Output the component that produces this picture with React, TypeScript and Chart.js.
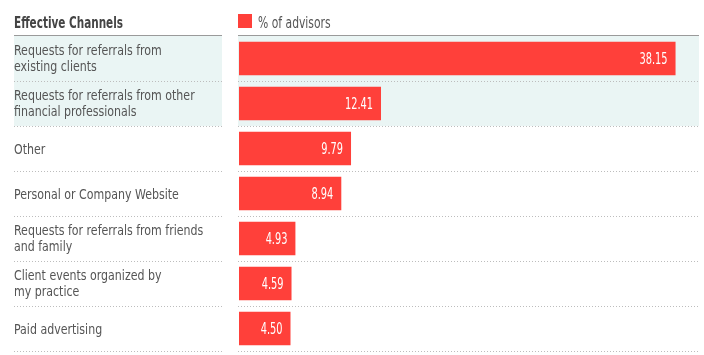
import React, { useEffect, useRef } from "react";
import { Chart, registerables } from "chart.js";

Chart.register(...registerables);

const categories: string[][] = [
  ["Requests for referrals from", "existing clients"],
  ["Requests for referrals from other", "financial professionals"],
  ["Other"],
  ["Personal or Company Website"],
  ["Requests for referrals from friends", "and family"],
  ["Client events organized by", "my practice"],
  ["Paid advertising"],
];
const advisorsPct = [38.15, 12.41, 9.79, 8.94, 4.93, 4.59, 4.5];
const valueLabels = ["38.15", "12.41", "9.79", "8.94", "4.93", "4.59", "4.50"];
const headerTitle = "Effective Channels";
const seriesName = "% of advisors";
const shadedRows = [0, 1];

const FONT = "'DejaVu Sans Condensed', 'Liberation Sans Narrow', 'Roboto', sans-serif";
const RED = "#FF403A";
const SHADE = "#EAF5F4";

function scaledText(ctx: any, text: string, x: number, y: number, sx: number, align: "left" | "right") {
  ctx.save();
  ctx.translate(x, y);
  ctx.scale(sx, 1);
  ctx.textAlign = align;
  ctx.fillText(text, 0, 0);
  ctx.restore();
}

const tablePlugin = {
  id: "tablePlugin",
  beforeDraw(chart: any) {
    const ctx = chart.ctx;
    const y = chart.scales.y;
    const area = chart.chartArea;
    const band = (y.bottom - y.top) / categories.length;
    ctx.save();
    ctx.fillStyle = "#fff";
    ctx.fillRect(0, 0, chart.width, chart.height);
    ctx.fillStyle = SHADE;
    shadedRows.forEach((i) => {
      const c = y.getPixelForValue(i);
      ctx.fillRect(14, c - band / 2, 208, band);
      ctx.fillRect(area.left - 1, c - band / 2, area.right - area.left + 1, band);
    });
    ctx.restore();
  },
  afterDraw(chart: any) {
    const ctx = chart.ctx;
    const y = chart.scales.y;
    const x = chart.scales.x;
    const area = chart.chartArea;
    const band = (y.bottom - y.top) / categories.length;
    ctx.save();
    // header line
    ctx.strokeStyle = "#9a9a9a";
    ctx.lineWidth = 1;
    ctx.beginPath();
    ctx.moveTo(14, area.top - 0.5);
    ctx.lineTo(222, area.top - 0.5);
    ctx.moveTo(area.left - 1, area.top - 0.5);
    ctx.lineTo(area.right, area.top - 0.5);
    ctx.stroke();
    // dotted separators
    ctx.strokeStyle = "#bdbdbd";
    ctx.setLineDash([1, 2]);
    categories.forEach((_, i) => {
      const yy = Math.round(y.getPixelForValue(i) + band / 2) + 0.5;
      ctx.beginPath();
      ctx.moveTo(14, yy);
      ctx.lineTo(222, yy);
      ctx.moveTo(area.left - 1, yy);
      ctx.lineTo(area.right, yy);
      ctx.stroke();
    });
    ctx.setLineDash([]);
    ctx.textBaseline = "alphabetic";
    // header text
    ctx.fillStyle = "#444";
    ctx.font = `bold 15px ${FONT}`;
    scaledText(ctx, headerTitle, 14, 28, 0.775, "left");
    // legend
    ctx.fillStyle = RED;
    ctx.fillRect(area.left - 1, 14, 14, 14);
    ctx.fillStyle = "#555";
    ctx.font = `15px ${FONT}`;
    scaledText(ctx, seriesName, area.left + 19, 28, 0.8, "left");
    // category labels
    ctx.fillStyle = "#555";
    ctx.font = `14px ${FONT}`;
    categories.forEach((lines, i) => {
      const c = y.getPixelForValue(i);
      if (lines.length === 1) {
        scaledText(ctx, lines[0], 14, c + 5, 0.875, "left");
      } else {
        scaledText(ctx, lines[0], 14, c - 3.5, 0.875, "left");
        scaledText(ctx, lines[1], 14, c + 12.5, 0.875, "left");
      }
    });
    // value labels
    ctx.fillStyle = "#fff";
    ctx.font = `16px ${FONT}`;
    advisorsPct.forEach((v, i) => {
      scaledText(ctx, valueLabels[i], x.getPixelForValue(v) - 8, y.getPixelForValue(i) + 5.5, 0.68, "right");
    });
    ctx.restore();
  },
};

export default function App() {
  const ref = useRef<HTMLCanvasElement>(null);
  useEffect(() => {
    if (!ref.current) return;
    const chart = new Chart(ref.current, {
      type: "bar",
      data: {
        labels: categories.map((l) => l.join(" ")),
        datasets: [
          {
            label: seriesName,
            data: advisorsPct,
            backgroundColor: RED,
            borderWidth: 0,
            barPercentage: 0.74,
            categoryPercentage: 1,
          },
        ],
      },
      options: {
        indexAxis: "y",
        animation: false,
        responsive: false,
        maintainAspectRatio: false,
        layout: { padding: { left: 14, top: 36, right: 5, bottom: 4 } },
        plugins: { legend: { display: false }, tooltip: { enabled: false } },
        scales: {
          x: { display: false, min: 0, max: 40.2 },
          y: {
            afterFit: (s: any) => {
              s.width = 225;
              s.paddingTop = 0;
              s.paddingBottom = 0;
            },
            grid: { display: false },
            border: { display: false },
            ticks: { display: false },
          },
        },
      },
      plugins: [tablePlugin],
    });
    return () => chart.destroy();
  }, []);
  return (
    <div style={{ position: "absolute", left: 0, top: 0, width: 704, height: 355, background: "#fff" }}>
      <canvas ref={ref} width={704} height={355} style={{ width: 704, height: 355 }} />
    </div>
  );
}
